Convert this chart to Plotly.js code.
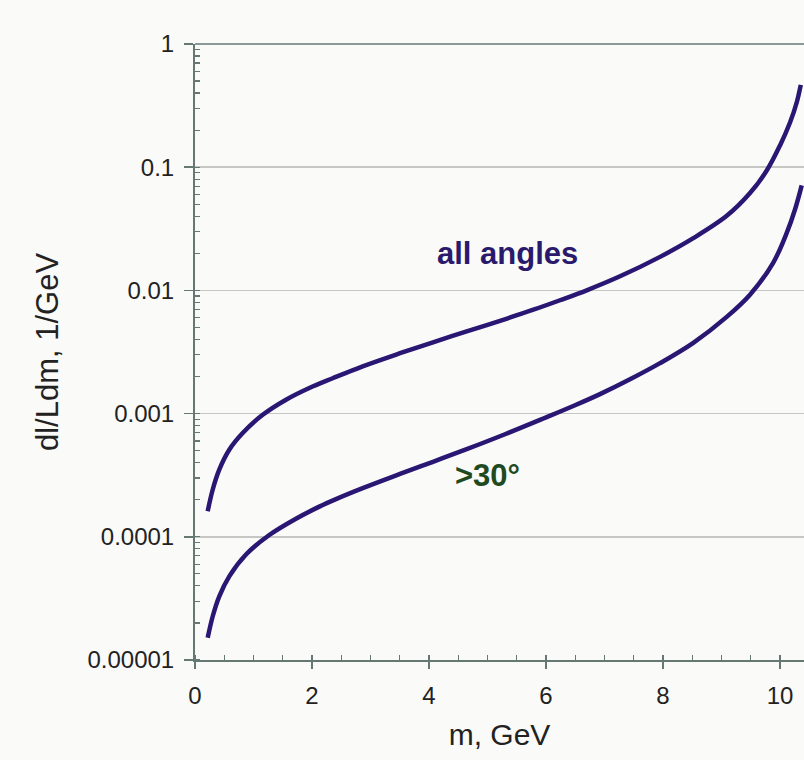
<!DOCTYPE html>
<html>
<head>
<meta charset="utf-8">
<script src="https://cdn.plot.ly/plotly-3.0.1.min.js"></script>
<style>html,body{margin:0;padding:0;background:#fafaf8;}</style>
</head>
<body>
<div id="chart" style="width:804px;height:760px;"></div>
<script>
// m, GeV
const xAll = [0.217, 0.303, 0.415, 0.586, 0.815, 1.157, 1.556, 1.954, 2.354, 2.867, 3.504, 4.068, 4.644, 5.214, 5.783, 6.239, 6.696, 7.265, 7.949, 8.518, 9.089, 9.487, 9.773, 10.000, 10.171, 10.285, 10.355];
// dl/Ldm, all angles
const yAll = [1.61e-4, 2.42e-4, 3.51e-4, 5.09e-4, 6.95e-4, 9.77e-4, 1.297e-3, 1.614e-3, 1.936e-3, 2.421e-3, 3.090e-3, 3.793e-3, 4.645e-3, 5.666e-3, 6.966e-3, 8.318e-3, 1.002e-2, 1.301e-2, 1.871e-2, 2.655e-2, 4.027e-2, 6.166e-2, 9.397e-2, 0.1503, 0.2307, 0.3350, 0.4656];
const x30 = [0.217, 0.303, 0.415, 0.586, 0.872, 1.270, 1.726, 2.125, 2.410, 2.867, 3.504, 4.068, 4.644, 5.299, 5.954, 6.496, 6.923, 7.436, 7.949, 8.518, 9.089, 9.487, 9.885, 10.115, 10.256, 10.371];
// dl/Ldm, >30 degrees
const y30 = [1.514e-5, 2.265e-5, 3.289e-5, 4.775e-5, 7.178e-5, 1.035e-4, 1.403e-4, 1.758e-4, 2.023e-4, 2.483e-4, 3.236e-4, 4.064e-4, 5.145e-4, 6.800e-4, 9.120e-4, 1.169e-3, 1.439e-3, 1.899e-3, 2.567e-3, 3.753e-3, 6.095e-3, 9.226e-3, 1.683e-2, 2.931e-2, 4.539e-2, 7.129e-2];
const yTickVals = [1e-5, 1e-4, 1e-3, 1e-2, 1e-1, 1];
const yTickText = ["0.00001", "0.0001", "0.001", "0.01", "0.1", "1"];
const xTickVals = [0, 2, 4, 6, 8, 10];

const lineColor = '#2a1774';
const axisColor = '#667874';

const traces = [
  {x: xAll, y: yAll, mode: 'lines', line: {color: lineColor, width: 4.5, shape: 'spline', smoothing: 1}, name: 'all angles', hoverinfo: 'skip'},
  {x: x30, y: y30, mode: 'lines', line: {color: lineColor, width: 4.5, shape: 'spline', smoothing: 1}, name: '>30°', hoverinfo: 'skip'}
];

const layout = {
  width: 804, height: 760,
  margin: {l: 195, r: 0, t: 44, b: 100},
  paper_bgcolor: '#fafaf8', plot_bgcolor: '#fafaf8',
  showlegend: false,
  font: {family: 'Liberation Sans, Arial, sans-serif', color: '#222', size: 24},
  xaxis: {
    range: [0, 10.41],
    tickvals: xTickVals,
    ticks: 'outside', ticklen: 7, tickwidth: 1.5, tickcolor: axisColor,
    minor: {ticks: 'inside', ticklen: 5, tickwidth: 1.2, tickcolor: axisColor, dtick: 0.5, showgrid: false},
    showline: true, linecolor: axisColor, linewidth: 2,
    showgrid: false, zeroline: false,
    tickfont: {size: 24, color: '#222'},
    ticklabelstandoff: 6,
    title: {text: 'm, GeV', font: {size: 30, color: '#222'}, standoff: 16}
  },
  yaxis: {
    type: 'log',
    range: [-5, 0],
    tickvals: yTickVals, ticktext: yTickText,
    ticks: 'outside', ticklen: 9, tickwidth: 1.5, tickcolor: axisColor,
    minor: {ticks: 'inside', ticklen: 5, tickwidth: 1.2, tickcolor: axisColor, dtick: 'D1', showgrid: false},
    showline: true, linecolor: axisColor, linewidth: 2,
    showgrid: true, gridcolor: '#c6c6c4', gridwidth: 1.5,
    zeroline: false,
    tickfont: {size: 24, color: '#222'},
    ticklabelstandoff: 5,
    title: {text: 'dl/Ldm, 1/GeV', font: {size: 31, color: '#222'}, standoff: 20}
  },
  shapes: [
    {type: 'line', xref: 'paper', yref: 'paper', x0: 0, x1: 1, y0: 1, y1: 1, line: {color: '#8a9a96', width: 2}}
  ],
  annotations: [
    {x: 5.35, y: -1.70, xref: 'x', yref: 'y', text: '<b>all angles</b>', showarrow: false,
     font: {family: 'Liberation Sans, Arial, sans-serif', size: 31, color: '#2a1a6e'}},
    {x: 5.0, y: -3.50, xref: 'x', yref: 'y', text: '<b>&gt;30°</b>', showarrow: false,
     font: {family: 'Liberation Sans, Arial, sans-serif', size: 31, color: '#1f4a1f'}}
  ]
};

Plotly.newPlot('chart', traces, layout, {displayModeBar: false, staticPlot: true});
</script>
</body>
</html>
